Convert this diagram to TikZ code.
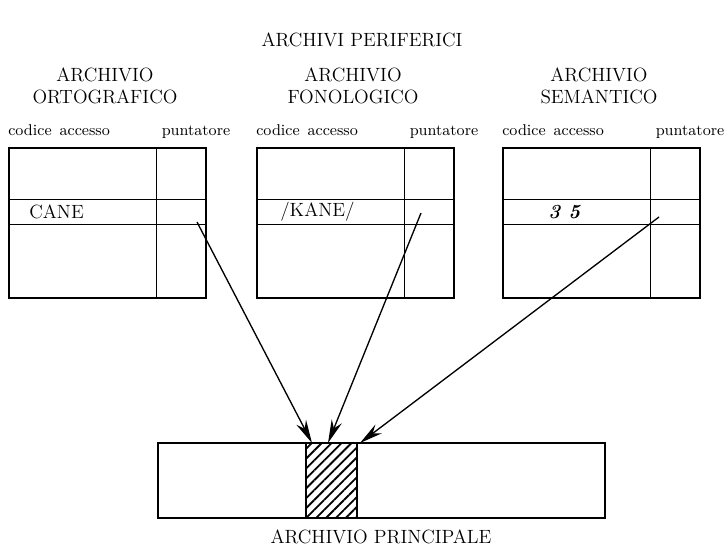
\documentclass[tikz,border=0pt]{standalone}
\usepackage{tikz}
\usetikzlibrary{arrows.meta, patterns.meta}

\begin{document}
\begin{tikzpicture}[x=0.6pt, y=-0.6pt,
		cornice/.style={line width=1.7pt},
		riga/.style={line width=0.6pt},
		freccia/.style={line width=0.8pt, -{Stealth[length=14pt, width=6.5pt, inset=4.5pt]}},
		testo/.style={inner sep=0pt, font=\fontsize{11.5}{12.8}\selectfont},
		piccolo/.style={testo, font=\fontsize{9.4}{11}\selectfont}]
	\useasboundingbox (0,0) rectangle (725,547);

	% Titolo
	\node[testo] (titolo) at (362,40) {ARCHIVI PERIFERICI};

	% Archivi periferici
	\foreach \x/\nome/\etichetta/\px/\py in {9/ort/ORTOGRAFICO/188/222, 257/fon/FONOLOGICO/164/213, 503/sem/SEMANTICO/156/217} {
		\node[testo, align=center] (\nome-titolo) at (\x+96,86) {ARCHIVIO\\\etichetta};
		\node[piccolo, anchor=base west] (\nome-codice) at (\x-1,135) {codice\hspace{0.5em}accesso};
		\node[piccolo, anchor=base] (\nome-puntatore) at (\x+187,135) {puntatore};
		\draw[cornice] (\x,148) rectangle (\x+197,298);
		\draw[riga] (\x+147,148) -- (\x+147,298);
		\draw[riga] (\x,199) -- (\x+197,199);
		\draw[riga] (\x,224) -- (\x+197,224);
		\coordinate (\nome-punt) at (\x+\px,\py);
	}

	% Voci
	\node[testo, anchor=west] (voce-ort) at (29,212) {CANE};
	\node[testo, anchor=west] (voce-fon) at (280,212) {/KANE/};
	\node[testo, anchor=west, font=\fontsize{12}{13}\selectfont\bfseries\itshape] (voce-sem) at (548,212) {3 5};

	% Archivio principale
	\draw[cornice] (158,443) rectangle (605,518);
	\draw[cornice, pattern={Lines[angle=45, distance=4.2pt, line width=1.1pt]}] (306,443) rectangle (357,518);
	\node[testo] (principale) at (381,537) {ARCHIVIO PRINCIPALE};

	% Frecce
	\coordinate (arrivo-ort) at (312,443);
	\coordinate (arrivo-fon) at (328,443);
	\coordinate (arrivo-sem) at (360,443);
	\foreach \nome in {ort, fon, sem} {
		\draw[freccia] (\nome-punt) -- (arrivo-\nome);
	}
\end{tikzpicture}
\end{document}
